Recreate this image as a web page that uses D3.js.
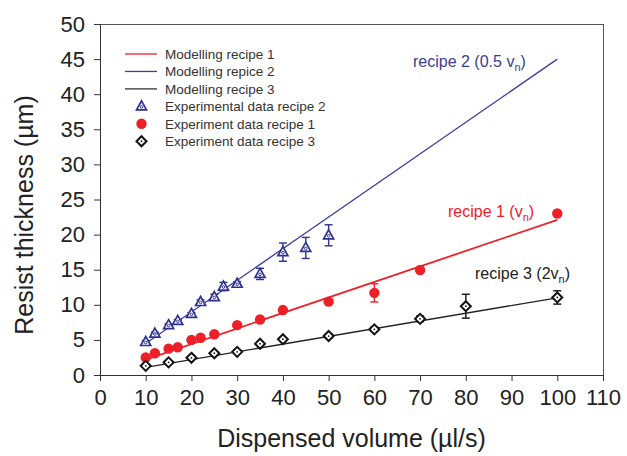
<!DOCTYPE html>
<html>
<head>
<meta charset="utf-8">
<script src="https://cdn.jsdelivr.net/npm/d3@7"></script>
<style>
  body { margin: 0; background: #fff; }
  text { font-family: "Liberation Sans", Arial, Helvetica, sans-serif; }
</style>
</head>
<body>
<div id="viz"></div>
<script>
// experimental data
var recipe2X = [10, 12, 15, 17, 20, 22, 25, 27, 30, 35, 40, 45, 50];
var recipe2Y = [4.7, 5.9, 7.1, 7.7, 8.7, 10.4, 11.1, 12.6, 13.0, 14.4, 17.5, 18.1, 19.9];
var recipe2Err = [0.2, 0.2, 0.2, 0.2, 0.2, 0.3, 0.4, 0.6, 0.3, 0.8, 1.3, 1.5, 1.5];

var recipe1X = [10, 12, 15, 17, 20, 22, 25, 30, 35, 40, 50, 60, 70, 100];
var recipe1Y = [2.5, 3.1, 3.75, 3.95, 5.0, 5.3, 5.8, 7.1, 7.9, 9.25, 10.45, 11.7, 14.95, 23.0];
var recipe1Err = [0, 0, 0, 0, 0, 0, 0, 0, 0, 0, 0.3, 1.3, 0, 0];

var recipe3X = [10, 15, 20, 25, 30, 35, 40, 50, 60, 70, 80, 100];
var recipe3Y = [1.3, 1.8, 2.45, 3.1, 3.3, 4.45, 5.1, 5.55, 6.5, 8.0, 9.8, 11.05];
var recipe3Err = [0.2, 0.2, 0.2, 0.2, 0.2, 0.2, 0.2, 0.3, 0.3, 0.4, 1.7, 0.95];

// model lines
var modelX = [10, 100];
var model1 = [2.2, 22.1];
var model2 = [4.5, 45];
var model3 = [1.1, 11.0];

var xTicks = [0, 10, 20, 30, 40, 50, 60, 70, 80, 90, 100, 110];
var yTicks = [0, 5, 10, 15, 20, 25, 30, 35, 40, 45, 50];

var width = 627;
var height = 456;
var red = "#ee2027", blue = "#2e3192", blueLine = "#3b3fa0";

var svg = d3.select("#viz")
    .append("svg")
    .attr("width", width)
    .attr("height", height);

var x = d3.scaleLinear().domain([0, 110]).range([100, 603]);
var y = d3.scaleLinear().domain([0, 50]).range([375, 24]);

// frame
svg.append("rect")
    .attr("x", x(0) + 0.5).attr("y", y(50) + 0.5)
    .attr("width", x(110) - x(0)).attr("height", y(0) - y(50))
    .attr("fill", "none").attr("stroke", "#555").attr("stroke-width", 1);

var xAxis = svg.append("g")
    .attr("transform", "translate(0," + y(0) + ")")
    .call(d3.axisBottom(x).tickValues(xTicks).tickSize(6).tickSizeOuter(0).tickPadding(8));
var yAxis = svg.append("g")
    .attr("transform", "translate(" + x(0) + ",0)")
    .call(d3.axisLeft(y).tickValues(yTicks).tickSize(6).tickSizeOuter(0).tickPadding(9));

[xAxis, yAxis].forEach(function(g) {
  g.select(".domain").attr("stroke", "#333");
  g.selectAll(".tick line").attr("stroke", "#333");
  g.selectAll(".tick text")
      .attr("fill", "#222")
      .style("font-size", "22px")
      .style("font-family", "Liberation Sans, Arial, sans-serif");
});

svg.append("text")
    .attr("x", (x(0) + x(110)) / 2)
    .attr("y", 447)
    .attr("text-anchor", "middle")
    .attr("fill", "#222")
    .style("font-size", "25px")
    .text("Dispensed volume (\u00b5l/s)");

svg.append("text")
    .attr("transform", "translate(33,215) rotate(-90)")
    .attr("text-anchor", "middle")
    .attr("fill", "#222")
    .style("font-size", "25px")
    .text("Resist thickness (\u00b5m)");

// model lines
var line = d3.line()
    .x(function(d) { return x(d[0]); })
    .y(function(d) { return y(d[1]); });

function drawModel(vals, color, w) {
  svg.append("path")
      .datum(d3.zip(modelX, vals))
      .attr("d", line)
      .attr("fill", "none")
      .attr("stroke", color)
      .attr("stroke-width", w);
}
drawModel(model2, blueLine, 1.3);
drawModel(model1, red, 1.8);
drawModel(model3, "#222", 1.3);

// error bars
function drawErr(xs, ys, es, color) {
  var g = svg.append("g").attr("stroke", color).attr("stroke-width", 1.4);
  xs.forEach(function(v, i) {
    if (!es[i]) return;
    var cx = x(v), y1 = y(ys[i] + es[i]), y2 = y(ys[i] - es[i]);
    g.append("line").attr("x1", cx).attr("x2", cx).attr("y1", y1).attr("y2", y2);
    g.append("line").attr("x1", cx - 4).attr("x2", cx + 4).attr("y1", y1).attr("y2", y1);
    g.append("line").attr("x1", cx - 4).attr("x2", cx + 4).attr("y1", y2).attr("y2", y2);
  });
}
drawErr(recipe2X, recipe2Y, recipe2Err, blue);
drawErr(recipe1X, recipe1Y, recipe1Err, red);
drawErr(recipe3X, recipe3Y, recipe3Err, "#111");

// markers
function triangle(g, cx, cy) {
  g.append("path")
      .attr("d", "M0,-5.5L5,3.5L-5,3.5Z")
      .attr("transform", "translate(" + cx + "," + cy + ")")
      .attr("fill", "#fff").attr("stroke", blue).attr("stroke-width", 1.7);
  g.append("circle").attr("cx", cx).attr("cy", cy + 0.5).attr("r", 1.3)
      .attr("fill", "#fff").attr("stroke", blue).attr("stroke-width", 1);
}
function disc(g, cx, cy) {
  g.append("circle").attr("cx", cx).attr("cy", cy).attr("r", 5.2).attr("fill", red);
}
function diamond(g, cx, cy) {
  g.append("path")
      .attr("d", "M0,-5L5,0L0,5L-5,0Z")
      .attr("transform", "translate(" + cx + "," + cy + ")")
      .attr("fill", "#fff").attr("stroke", "#111").attr("stroke-width", 2);
  g.append("circle").attr("cx", cx).attr("cy", cy).attr("r", 0.9).attr("fill", "#111");
}

var pts = svg.append("g");
recipe2X.forEach(function(v, i) { triangle(pts, x(v), y(recipe2Y[i])); });
recipe1X.forEach(function(v, i) { disc(pts, x(v), y(recipe1Y[i])); });
recipe3X.forEach(function(v, i) { diamond(pts, x(v), y(recipe3Y[i])); });

// legend
var legendRows = [
  {label: "Modelling recipe 1", kind: "line", color: red},
  {label: "Modelling repice 2", kind: "line", color: blueLine},
  {label: "Modelling recipe 3", kind: "line", color: "#333"},
  {label: "Experimental data recipe 2", kind: "tri"},
  {label: "Experiment data recipe 1", kind: "disc"},
  {label: "Experiment data recipe 3", kind: "dia"}
];
var leg = svg.append("g");
legendRows.forEach(function(r, i) {
  var ly = 54 + i * 17.45;
  if (r.kind === "line") {
    leg.append("line").attr("x1", 125).attr("x2", 157).attr("y1", ly).attr("y2", ly)
        .attr("stroke", r.color).attr("stroke-width", 1.3);
  } else if (r.kind === "tri") {
    triangle(leg, 141.5, ly);
  } else if (r.kind === "disc") {
    disc(leg, 141.5, ly);
  } else {
    diamond(leg, 141.5, ly);
  }
  leg.append("text")
      .attr("x", 165).attr("y", ly + 4.7)
      .attr("fill", "#333")
      .style("font-size", "13.5px")
      .text(r.label);
});

// annotations
function annot(tx, ty, color, pre, post) {
  var t = svg.append("text").attr("x", tx).attr("y", ty).attr("fill", color).style("font-size", "16px");
  t.append("tspan").text(pre);
  t.append("tspan").attr("dy", 4).style("font-size", "11px").text("n");
  t.append("tspan").attr("dy", -4).text(post);
}
annot(413, 67, "#3a3d98", "recipe 2 (0.5 v", ")");
annot(448, 217, red, "recipe 1 (v", ")");
annot(475, 279, "#222", "recipe 3 (2v", ")");
</script>
</body>
</html>
